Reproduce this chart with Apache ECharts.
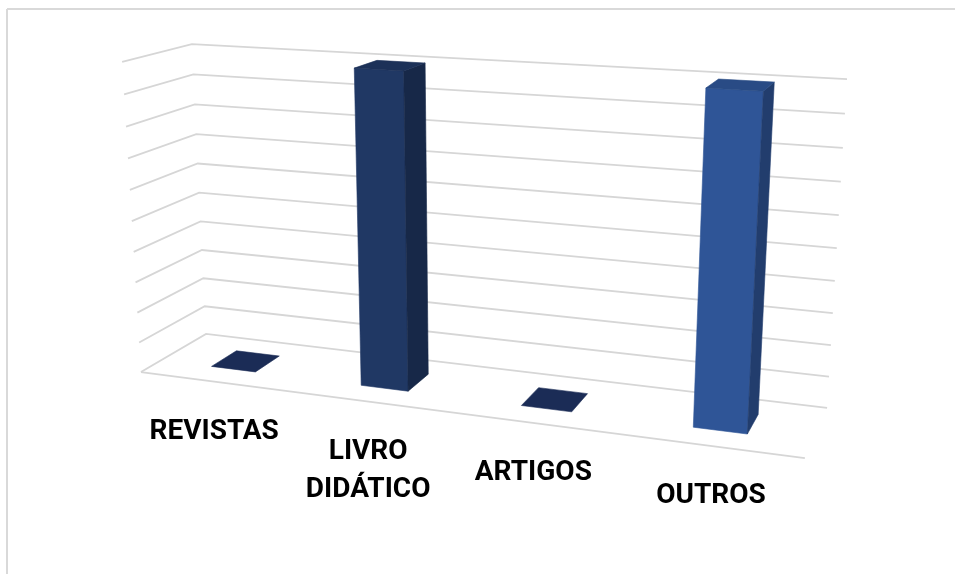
<!DOCTYPE html>
<html>
<head>
<meta charset="utf-8">
<script src="https://cdn.jsdelivr.net/npm/echarts@6/dist/echarts.min.js"></script>
<style>
  html, body { margin: 0; padding: 0; background: #ffffff; }
  #chart { width: 955px; height: 574px; }
</style>
</head>
<body>
<div id="chart"></div>
<script>
// Chart data
const categories = ['REVISTAS', 'LIVRO DIDÁTICO', 'ARTIGOS', 'OUTROS'];
const values = [0, 10, 0, 10];
const yTicks = [0, 1, 2, 3, 4, 5, 6, 7, 8, 9, 10];
const barColors = ['#1f3262', '#203864', '#1f3262', '#2f5597'];

// Perspective frame: unit box (x: categories, y: value, z: depth) -> screen
// [x, y, z, screenX, screenY]
const frameCorners = [
  [0, 0, 0, 141, 372],
  [0, 1, 0, 122, 62],
  [0, 0, 1, 206, 334],
  [0, 1, 1, 192, 44],
  [1, 0, 1, 827, 408],
  [1, 1, 1, 847, 79],
  [1, 0, 0, 805, 458]
];
const BAR_FRACTION = 0.3;   // bar width relative to a category slot
const BAR_DEPTH = [0.3, 0.7];
const LABEL_Z = 0;
const LABEL_DY = 31;

// Least-squares projective camera (3x4, last entry fixed to 1)
function fitCamera(pairs) {
  const rows = [], rhs = [];
  pairs.forEach(([X, Y, Z, u, v]) => {
    rows.push([X, Y, Z, 1, 0, 0, 0, 0, -u * X, -u * Y, -u * Z]); rhs.push(u);
    rows.push([0, 0, 0, 0, X, Y, Z, 1, -v * X, -v * Y, -v * Z]); rhs.push(v);
  });
  const n = 11;
  const M = [];
  for (let i = 0; i < n; i++) {
    const r = new Array(n + 1).fill(0);
    for (let k = 0; k < rows.length; k++) {
      for (let j = 0; j < n; j++) r[j] += rows[k][i] * rows[k][j];
      r[n] += rows[k][i] * rhs[k];
    }
    M.push(r);
  }
  for (let c = 0; c < n; c++) {
    let piv = c;
    for (let r = c + 1; r < n; r++) if (Math.abs(M[r][c]) > Math.abs(M[piv][c])) piv = r;
    [M[c], M[piv]] = [M[piv], M[c]];
    for (let r = 0; r < n; r++) {
      if (r === c) continue;
      const f = M[r][c] / M[c][c];
      for (let j = c; j <= n; j++) M[r][j] -= f * M[c][j];
    }
  }
  return M.map((r, i) => r[n] / r[i]);
}
const P = fitCamera(frameCorners);
function proj(x, y, z) {
  const w = P[8] * x + P[9] * y + P[10] * z + 1;
  return [(P[0] * x + P[1] * y + P[2] * z + P[3]) / w,
          (P[4] * x + P[5] * y + P[6] * z + P[7]) / w];
}

function shade(hex, k) {
  const n = parseInt(hex.slice(1), 16);
  const r = Math.round(((n >> 16) & 255) * k);
  const g = Math.round(((n >> 8) & 255) * k);
  const b = Math.round((n & 255) * k);
  return 'rgb(' + r + ',' + g + ',' + b + ')';
}

// Screen point on the hidden cartesian grid -> unit box coordinates
function toUnit(params, pt) {
  const cs = params.coordSys;
  return [(pt[0] - cs.x) / cs.width, (cs.y + cs.height - pt[1]) / cs.height];
}

const chart = echarts.init(document.getElementById('chart'), null, { renderer: 'canvas' });

const option = {
  animation: false,
  backgroundColor: '#ffffff',
  grid: { left: 0, right: 0, top: 0, bottom: 0, containLabel: false },
  xAxis: { type: 'category', data: categories, show: false },
  yAxis: { type: 'value', min: 0, max: 10, interval: 1, show: false },
  graphic: [
    { type: 'line', shape: { x1: 7, y1: 9, x2: 955, y2: 9 }, style: { stroke: '#d9d9d9', lineWidth: 2 }, z: 0 },
    { type: 'line', shape: { x1: 7, y1: 9, x2: 7, y2: 574 }, style: { stroke: '#d9d9d9', lineWidth: 2 }, z: 0 }
  ],
  series: [
    {
      // walls and floor gridlines
      type: 'custom',
      coordinateSystem: 'cartesian2d',
      clip: false,
      silent: true,
      z: 1,
      data: yTicks.map(t => [0, t]),
      renderItem: function (params, api) {
        const t = api.value(1);
        const yu = toUnit(params, api.coord([0, t]))[1];
        const children = [{
          type: 'polyline',
          shape: { points: [proj(0, yu, 0), proj(0, yu, 1), proj(1, yu, 1)] },
          style: { stroke: '#d6d6d6', lineWidth: 1.8, fill: null }
        }];
        if (t === 0) {
          const a = proj(0, 0, 0), b = proj(1, 0, 0);
          children.push({
            type: 'line',
            shape: { x1: a[0], y1: a[1], x2: b[0], y2: b[1] },
            style: { stroke: '#d6d6d6', lineWidth: 1.8 }
          });
        }
        return { type: 'group', children: children };
      }
    },
    {
      // 3D columns with category labels
      type: 'custom',
      coordinateSystem: 'cartesian2d',
      clip: false,
      silent: true,
      z: 2,
      data: values.map((v, i) => [i, v]),
      renderItem: function (params, api) {
        const i = api.value(0);
        const v = api.value(1);
        const top = api.coord([i, v]);
        const base = api.coord([i, 0]);
        const cs = params.coordSys;
        const xc = toUnit(params, base)[0];
        const yt = toUnit(params, top)[1];
        const hw = api.size([1, 0])[0] / cs.width * BAR_FRACTION / 2;
        const x0 = xc - hw, x1 = xc + hw, z0 = BAR_DEPTH[0], z1 = BAR_DEPTH[1];
        const col = barColors[i];
        const face = (pts, fill) => ({
          type: 'polygon',
          shape: { points: pts.map(p => proj(p[0], p[1], p[2])) },
          style: { fill: fill, stroke: fill, lineWidth: 0.6 }
        });
        const children = [];
        if (yt > 0) {
          children.push(face([[x0, 0, z0], [x1, 0, z0], [x1, yt, z0], [x0, yt, z0]], col));
          children.push(face([[x1, 0, z0], [x1, 0, z1], [x1, yt, z1], [x1, yt, z0]], shade(col, 0.72)));
        }
        children.push(face([[x0, yt, z0], [x1, yt, z0], [x1, yt, z1], [x0, yt, z1]], shade(col, 0.88)));
        const lp = proj(xc, 0, LABEL_Z);
        children.push({
          type: 'text',
          x: lp[0],
          y: lp[1] + LABEL_DY,
          style: {
            text: categories[i].split(' ').join('\n'),
            fill: '#000000',
            fontFamily: 'Roboto, "Liberation Sans", sans-serif',
            fontWeight: 'bold',
            fontSize: 28,
            lineHeight: 38,
            align: 'center',
            verticalAlign: 'top'
          }
        });
        return { type: 'group', children: children };
      }
    }
  ]
};
chart.setOption(option);
</script>
</body>
</html>
